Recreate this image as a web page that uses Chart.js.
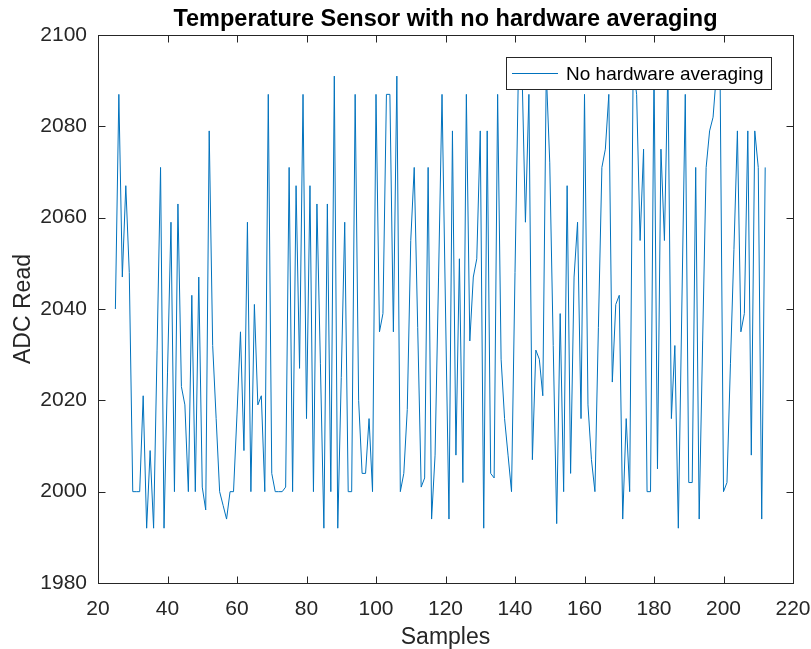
<!DOCTYPE html>
<html>
<head>
<meta charset="utf-8">
<title>Temperature Sensor with no hardware averaging</title>
<script src="https://cdn.jsdelivr.net/npm/chart.js@4.4.1/dist/chart.umd.min.js"></script>
<style>
  html, body { margin: 0; padding: 0; background: #fff; }
  canvas { display: block; }
</style>
</head>
<body>
<canvas id="grafica" width="811" height="649"></canvas>
<script>
// --- DATOS ---
const chartTitle = "Temperature Sensor with no hardware averaging";
const xLabel = "Samples";
const yLabel = "ADC Read";
const seriesName = "No hardware averaging";
const firstSample = 25; // primera muestra del registro
const xTicks = [20, 40, 60, 80, 100, 120, 140, 160, 180, 200, 220];
const yTicks = [1980, 2000, 2020, 2040, 2060, 2080, 2100];

// lecturas del ADC, muestras 25..212
const adcRead = [
  2040, 2087, 2047, 2067, 2048, 2000, 2000, 2000, 2021, 1992, // 25-34
  2009, 1992, 2031, 2071, 1992, 2026, 2059, 2000, 2063, 2023, // 35-44
  2019, 2000, 2043, 2000, 2047, 2001, 1996, 2079, 2032, 2016, // 45-54
  2000, 1997, 1994, 2000, 2000, 2017, 2035, 2009, 2059, 2000, // 55-64
  2041, 2019, 2021, 2000, 2087, 2004, 2000, 2000, 2000, 2001, // 65-74
  2071, 2000, 2067, 2027, 2087, 2016, 2067, 2000, 2063, 2028, // 75-84
  1992, 2063, 2000, 2091, 1992, 2025, 2059, 2000, 2000, 2087, // 85-94
  2020, 2004, 2004, 2016, 2000, 2087, 2035, 2039, 2087, 2087, // 95-104
  2035, 2091, 2000, 2004, 2018, 2055, 2071, 2036, 2001, 2003, // 105-114
  2071, 1994, 2008, 2047, 2087, 2040, 1994, 2079, 2008, 2051, // 115-124
  2002, 2087, 2033, 2047, 2051, 2079, 1992, 2079, 2004, 2003, // 125-134
  2087, 2029, 2016, 2008, 2000, 2048, 2093, 2093, 2059, 2087, // 135-144
  2007, 2031, 2029, 2021, 2092, 2072, 2032, 1993, 2039, 2000, // 145-154
  2067, 2004, 2047, 2059, 2016, 2087, 2019, 2007, 2000, 2036, // 155-164
  2071, 2075, 2087, 2024, 2041, 2043, 1994, 2016, 2000, 2093, // 165-174
  2087, 2055, 2075, 2000, 2000, 2093, 2005, 2075, 2055, 2093, // 175-184
  2016, 2032, 1992, 2040, 2087, 2002, 2002, 2071, 1994, 2033, // 185-194
  2071, 2079, 2082, 2092, 2093, 2000, 2002, 2028, 2053, 2079, // 195-204
  2035, 2039, 2079, 2008, 2079, 2071, 1994, 2071              // 205-212
];

const FONT = "'Liberation Sans', Arial, Helvetica, sans-serif";
const AXIS_COLOR = "#262626";
const LINE_COLOR = "#0072BD";

// --- MARCO ESTILO MATLAB (caja, ticks hacia dentro, titulos, leyenda) ---
const marcoMatlab = {
  id: "marcoMatlab",
  afterDraw(chart) {
    const { ctx, chartArea: a, scales } = chart;
    const L = Math.round(a.left) + 0.5, R = Math.round(a.right) + 0.5;
    const T = Math.round(a.top) + 0.5, B = Math.round(a.bottom) + 0.5;
    const tl = 7;
    ctx.save();
    ctx.strokeStyle = AXIS_COLOR;
    ctx.lineWidth = 1;
    ctx.strokeRect(L, T, R - L, B - T);

    ctx.beginPath();
    xTicks.forEach(v => {
      const px = Math.round(scales.x.getPixelForValue(v)) + 0.5;
      ctx.moveTo(px, B); ctx.lineTo(px, B - tl);
      ctx.moveTo(px, T); ctx.lineTo(px, T + tl);
    });
    yTicks.forEach(v => {
      const py = Math.round(scales.y.getPixelForValue(v)) + 0.5;
      ctx.moveTo(L, py); ctx.lineTo(L + tl, py);
      ctx.moveTo(R, py); ctx.lineTo(R - tl, py);
    });
    ctx.stroke();

    // titulo
    const cx = (a.left + a.right) / 2;
    ctx.fillStyle = "#000";
    ctx.font = "bold 23.5px " + FONT;
    ctx.textAlign = "center";
    ctx.textBaseline = "alphabetic";
    ctx.fillText(chartTitle, cx, 26);

    // etiquetas de ejes
    ctx.fillStyle = AXIS_COLOR;
    ctx.font = "23px " + FONT;
    ctx.fillText(xLabel, cx, 644);
    ctx.save();
    ctx.translate(30, (a.top + a.bottom) / 2);
    ctx.rotate(-Math.PI / 2);
    ctx.fillText(yLabel, 0, 0);
    ctx.restore();

    // leyenda (opaca, encima de la linea)
    const lx = 506.5, ly = 57.5, lw = 265, lh = 32;
    ctx.fillStyle = "#fff";
    ctx.fillRect(lx, ly, lw, lh);
    ctx.strokeStyle = "#262626";
    ctx.lineWidth = 1;
    ctx.strokeRect(lx, ly, lw, lh);
    ctx.strokeStyle = LINE_COLOR;
    ctx.beginPath();
    ctx.moveTo(512, 73.5); ctx.lineTo(558, 73.5);
    ctx.stroke();
    ctx.fillStyle = "#000";
    ctx.font = "19px " + FONT;
    ctx.textAlign = "left";
    ctx.fillText(seriesName, 566, 80);
    ctx.restore();
  }
};

const puntos = adcRead.map((v, i) => ({ x: firstSample + i, y: v }));

new Chart(document.getElementById("grafica"), {
  type: "line",
  data: {
    datasets: [{
      label: seriesName,
      data: puntos,
      borderColor: LINE_COLOR,
      borderWidth: 1,
      pointRadius: 0,
      tension: 0,
      fill: false
    }]
  },
  options: {
    responsive: false,
    animation: false,
    devicePixelRatio: 1,
    layout: { padding: { top: 35, right: 18, left: 0, bottom: 0 } },
    plugins: {
      legend: { display: false },
      title: { display: false },
      tooltip: { enabled: false }
    },
    scales: {
      x: {
        type: "linear",
        min: 20, max: 220,
        afterFit(s) {
          s.height = 66;
          s.paddingLeft = 0; s.paddingRight = 0;
        },
        afterBuildTicks(s) { s.ticks = xTicks.map(v => ({ value: v })); },
        ticks: {
          color: AXIS_COLOR,
          font: { family: FONT, size: 21 },
          padding: 14,
          maxRotation: 0,
          callback: v => String(v)
        },
        grid: { display: false, drawTicks: false },
        border: { display: false }
      },
      y: {
        type: "linear",
        min: 1980, max: 2100,
        afterFit(s) {
          s.width = 98;
          s.paddingTop = 0; s.paddingBottom = 0;
        },
        afterBuildTicks(s) { s.ticks = yTicks.map(v => ({ value: v })); },
        ticks: {
          color: AXIS_COLOR,
          font: { family: FONT, size: 21 },
          padding: 11,
          callback: v => String(v)
        },
        grid: { display: false, drawTicks: false },
        border: { display: false }
      }
    }
  },
  plugins: [marcoMatlab]
});
</script>
</body>
</html>
